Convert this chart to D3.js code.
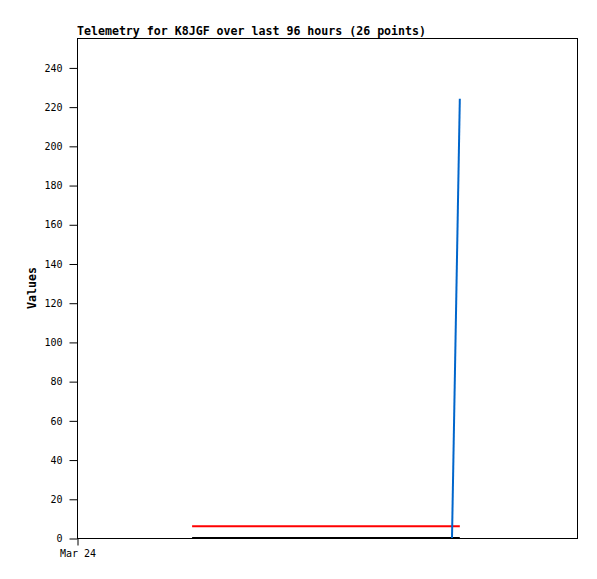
<!DOCTYPE html>
<html><head><meta charset="utf-8">
<script src="https://cdn.jsdelivr.net/npm/d3@7/dist/d3.min.js"></script>
<style>body{margin:0;background:#fff}svg{display:block}</style>
</head><body>
<svg id="c" width="597" height="579"></svg>
<script>
const title = "Telemetry for K8JGF over last 96 hours (26 points)";
const yLabel = "Values";
const startDate = new Date(2024, 2, 24, 0, 0);
const endDate = new Date(2024, 2, 28, 0, 0);
const hoursFromStart = [22.1, 24.2, 26.3, 28.3, 30.4, 32.5, 34.6, 36.7, 38.7, 40.8, 42.9, 45.0, 47.1, 49.1, 51.2, 53.3, 55.4, 57.5, 59.5, 61.6, 63.7, 65.8, 67.9, 69.9, 72.0, 73.5];
const seriesBlack = [0,0,0,0,0,0,0,0,0,0,0,0,0,0,0,0,0,0,0,0,0,0,0,0,0,0];
const seriesRed = [6,6,6,6,6,6,6,6,6,6,6,6,6,6,6,6,6,6,6,6,6,6,6,6,6,6];
const seriesBlue = [null,null,null,null,null,null,null,null,null,null,null,null,null,null,null,null,null,null,null,null,null,null,null,null,0,224];
const yTicks = [0,20,40,60,80,100,120,140,160,180,200,220,240];
const xTickLabels = ["Mar 24"];

const svg = d3.select("#c");
const L = 77, R = 577, T = 38, B = 538;
const x = d3.scaleTime().domain([startDate, endDate]).range([L, R]);
const y = d3.scaleLinear().domain([0, 255]).range([B, T]);
const times = hoursFromStart.map(h => new Date(startDate.getTime() + h * 3600e3));
const mono = "'DejaVu Sans Mono', 'Liberation Mono', monospace";

svg.append("rect").attr("x", L + 0.5).attr("y", T + 0.5).attr("width", R - L).attr("height", B - T)
  .attr("fill", "none").attr("stroke", "#000").attr("stroke-width", 1);

const ya = svg.append("g").attr("transform", `translate(${L + 0.5},0.5)`)
  .call(d3.axisLeft(y).tickValues(yTicks).tickSizeInner(8).tickSizeOuter(0).tickPadding(7));
ya.select(".domain").remove();
ya.selectAll("text").attr("font-family", mono).attr("font-size", "10px").attr("fill", "#000");

const xa = svg.append("g").attr("transform", `translate(0.5,${B + 0.5})`)
  .call(d3.axisBottom(x).tickValues([startDate]).tickFormat((d, i) => xTickLabels[i]).tickSizeInner(7).tickSizeOuter(0).tickPadding(4));
xa.select(".domain").remove();
xa.selectAll("text").attr("font-family", mono).attr("font-size", "10px").attr("fill", "#000");

const line = vals => d3.line().defined(d => d != null).x((d, i) => x(times[i])).y(d => y(d))(vals);
svg.append("path").attr("d", line(seriesBlack)).attr("fill", "none").attr("stroke", "#000").attr("stroke-width", 2);
svg.append("path").attr("d", line(seriesRed)).attr("fill", "none").attr("stroke", "#ff0000").attr("stroke-width", 2);
svg.append("path").attr("d", line(seriesBlue)).attr("fill", "none").attr("stroke", "#0066cc").attr("stroke-width", 2);

svg.append("text").attr("x", L).attr("y", 35).attr("font-family", mono).attr("font-weight", "bold")
  .attr("font-size", "11.6px").text(title);
svg.append("text").attr("transform", `translate(36,${(T + B) / 2}) rotate(-90)`).attr("text-anchor", "middle")
  .attr("font-family", mono).attr("font-weight", "bold").attr("font-size", "11.6px").text(yLabel);
</script>
</body></html>
